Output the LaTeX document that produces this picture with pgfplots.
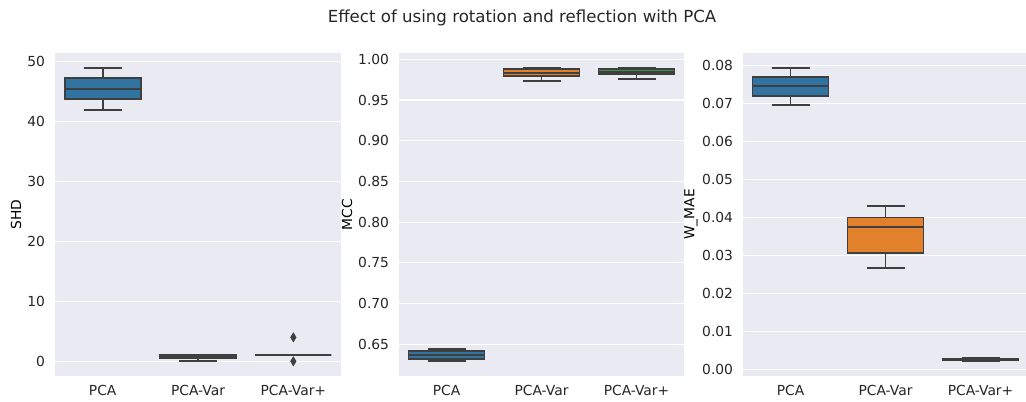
\documentclass[border=0pt]{standalone}
\usepackage{pgfplots}
\pgfplotsset{compat=1.18}
\usepgfplotslibrary{statistics}
\usepackage{fontspec}
\setmainfont{DejaVu Sans}
\definecolor{bg}{HTML}{EAEAF2}
\definecolor{txt}{HTML}{262626}
\definecolor{edge}{HTML}{3F3F3F}
\definecolor{cblue}{HTML}{3274A1}
\definecolor{corange}{HTML}{E1812C}
\definecolor{cgreen}{HTML}{3A923A}
\pgfplotsset{
  sb/.style={
    scale only axis, height=233.43pt,
    anchor=north west,
    axis background/.style={fill=bg},
    axis line style={draw=none},
    major tick style={draw=none},
    ymajorgrids, grid style={white, line width=0.8pt},
    xmin=-0.5, xmax=2.5, xtick={0,1,2},
    xticklabels={PCA,PCA-Var,PCA-Var+},
    tick label style={font=\fontsize{10}{12}\selectfont, text=txt},
    label style={font=\fontsize{10}{12}\selectfont, text=txt},
    /pgf/number format/assume math mode=true,
    xticklabel style={inner sep=0pt, anchor=north, yshift=-6.5pt},
    yticklabel style={inner sep=0pt, anchor=east, xshift=-7pt},
  },
  bx/.style={boxplot prepared={draw direction=y, #1, box extend=0.8, whisker extend=0.4},
    /pgfplots/boxplot/draw/median/.code={%
      \draw[draw=edge, line width=1.4pt, line cap=butt]
        (boxplot box cs:\pgfplotsboxplotvalue{median},0) --
        (boxplot box cs:\pgfplotsboxplotvalue{median},1);},
    /pgfplots/boxplot/draw/lower whisker/.code={%
      \draw[draw=edge, line width=1.4pt, line cap=butt]
        (boxplot cs:\pgfplotsboxplotvalue{lower quartile}) --
        (boxplot cs:\pgfplotsboxplotvalue{lower whisker})
        (boxplot whisker cs:\pgfplotsboxplotvalue{lower whisker},0) --
        (boxplot whisker cs:\pgfplotsboxplotvalue{lower whisker},1);},
    /pgfplots/boxplot/draw/upper whisker/.code={%
      \draw[draw=edge, line width=1.4pt, line cap=butt]
        (boxplot cs:\pgfplotsboxplotvalue{upper quartile}) --
        (boxplot cs:\pgfplotsboxplotvalue{upper whisker})
        (boxplot whisker cs:\pgfplotsboxplotvalue{upper whisker},0) --
        (boxplot whisker cs:\pgfplotsboxplotvalue{upper whisker},1);},
    draw=edge, line width=1.4pt, solid,
    mark=diamond*, mark size=3.3pt,
    mark options={fill=edge, draw=edge, solid, line width=0.4pt, xscale=0.8}},
}
\begin{document}
\begin{tikzpicture}
\path[use as bounding box] (0,0) rectangle (741.49pt,-290.53pt);
\node[font=\fontsize{12}{14}\selectfont, text=txt] at (377.25pt,-13pt) {Effect of using rotation and reflection with PCA};

% SHD
\begin{axis}[sb, at={(39.75pt,-38.30pt)}, width=206.69pt,
  ymin=-2.45, ymax=51.45, ytick={0,10,20,30,40,50},
  ylabel={SHD},
  every axis y label/.style={at={(axis description cs:0,0.5)}, xshift=-28.2pt, anchor=center, rotate=90}]
\addplot+[bx={lower whisker=42, lower quartile=43.75, median=45.5, upper quartile=47.25, upper whisker=49, draw position=0}, fill=cblue] coordinates {};
\addplot+[bx={lower whisker=0, lower quartile=0.5, median=0.75, upper quartile=1.0, upper whisker=1.0, draw position=1}, fill=corange] coordinates {};
\addplot+[bx={lower whisker=1, lower quartile=1, median=1, upper quartile=1, upper whisker=1, draw position=2}, fill=cgreen] table[row sep=\\, y index=0] {4\\ 0\\};
\end{axis}

% MCC
\begin{axis}[sb, at={(288.36pt,-38.30pt)}, width=205.97pt,
  ymin=0.6112, ymax=1.0077, ytick={0.65,0.70,0.75,0.80,0.85,0.90,0.95,1.00},
  yticklabel style={/pgf/number format/.cd, fixed, fixed zerofill, precision=2},
  ylabel={MCC},
  every axis y label/.style={at={(axis description cs:0,0.5)}, xshift=-37.6pt, anchor=center, rotate=90}]
\addplot+[bx={lower whisker=0.6292, lower quartile=0.6326, median=0.6375, upper quartile=0.6414, upper whisker=0.6446, draw position=0}, fill=cblue] coordinates {};
\addplot+[bx={lower whisker=0.9733, lower quartile=0.9792, median=0.9829, upper quartile=0.9877, upper whisker=0.9897, draw position=1}, fill=corange] coordinates {};
\addplot+[bx={lower whisker=0.9763, lower quartile=0.9820, median=0.9845, upper quartile=0.9877, upper whisker=0.9897, draw position=2}, fill=cgreen] coordinates {};
\end{axis}

% W_MAE
\begin{axis}[sb, at={(536.97pt,-38.30pt)}, width=205.97pt,
  ymin=-0.0017, ymax=0.0833, ytick={0,0.01,0.02,0.03,0.04,0.05,0.06,0.07,0.08},
  yticklabel style={/pgf/number format/.cd, fixed, fixed zerofill, precision=2},
  scaled y ticks=false,
  ylabel={W\_MAE},
  every axis y label/.style={at={(axis description cs:0,0.5)}, xshift=-37.6pt, anchor=center, rotate=90}]
\addplot+[bx={lower whisker=0.0695, lower quartile=0.0719, median=0.0745, upper quartile=0.0770, upper whisker=0.0794, draw position=0}, fill=cblue] coordinates {};
\addplot+[bx={lower whisker=0.0268, lower quartile=0.0307, median=0.0374, upper quartile=0.0400, upper whisker=0.0431, draw position=1}, fill=corange] coordinates {};
\addplot+[bx={lower whisker=0.0023, lower quartile=0.0024, median=0.0026, upper quartile=0.0028, upper whisker=0.0030, draw position=2}, fill=cgreen] coordinates {};
\end{axis}
\end{tikzpicture}
\end{document}
